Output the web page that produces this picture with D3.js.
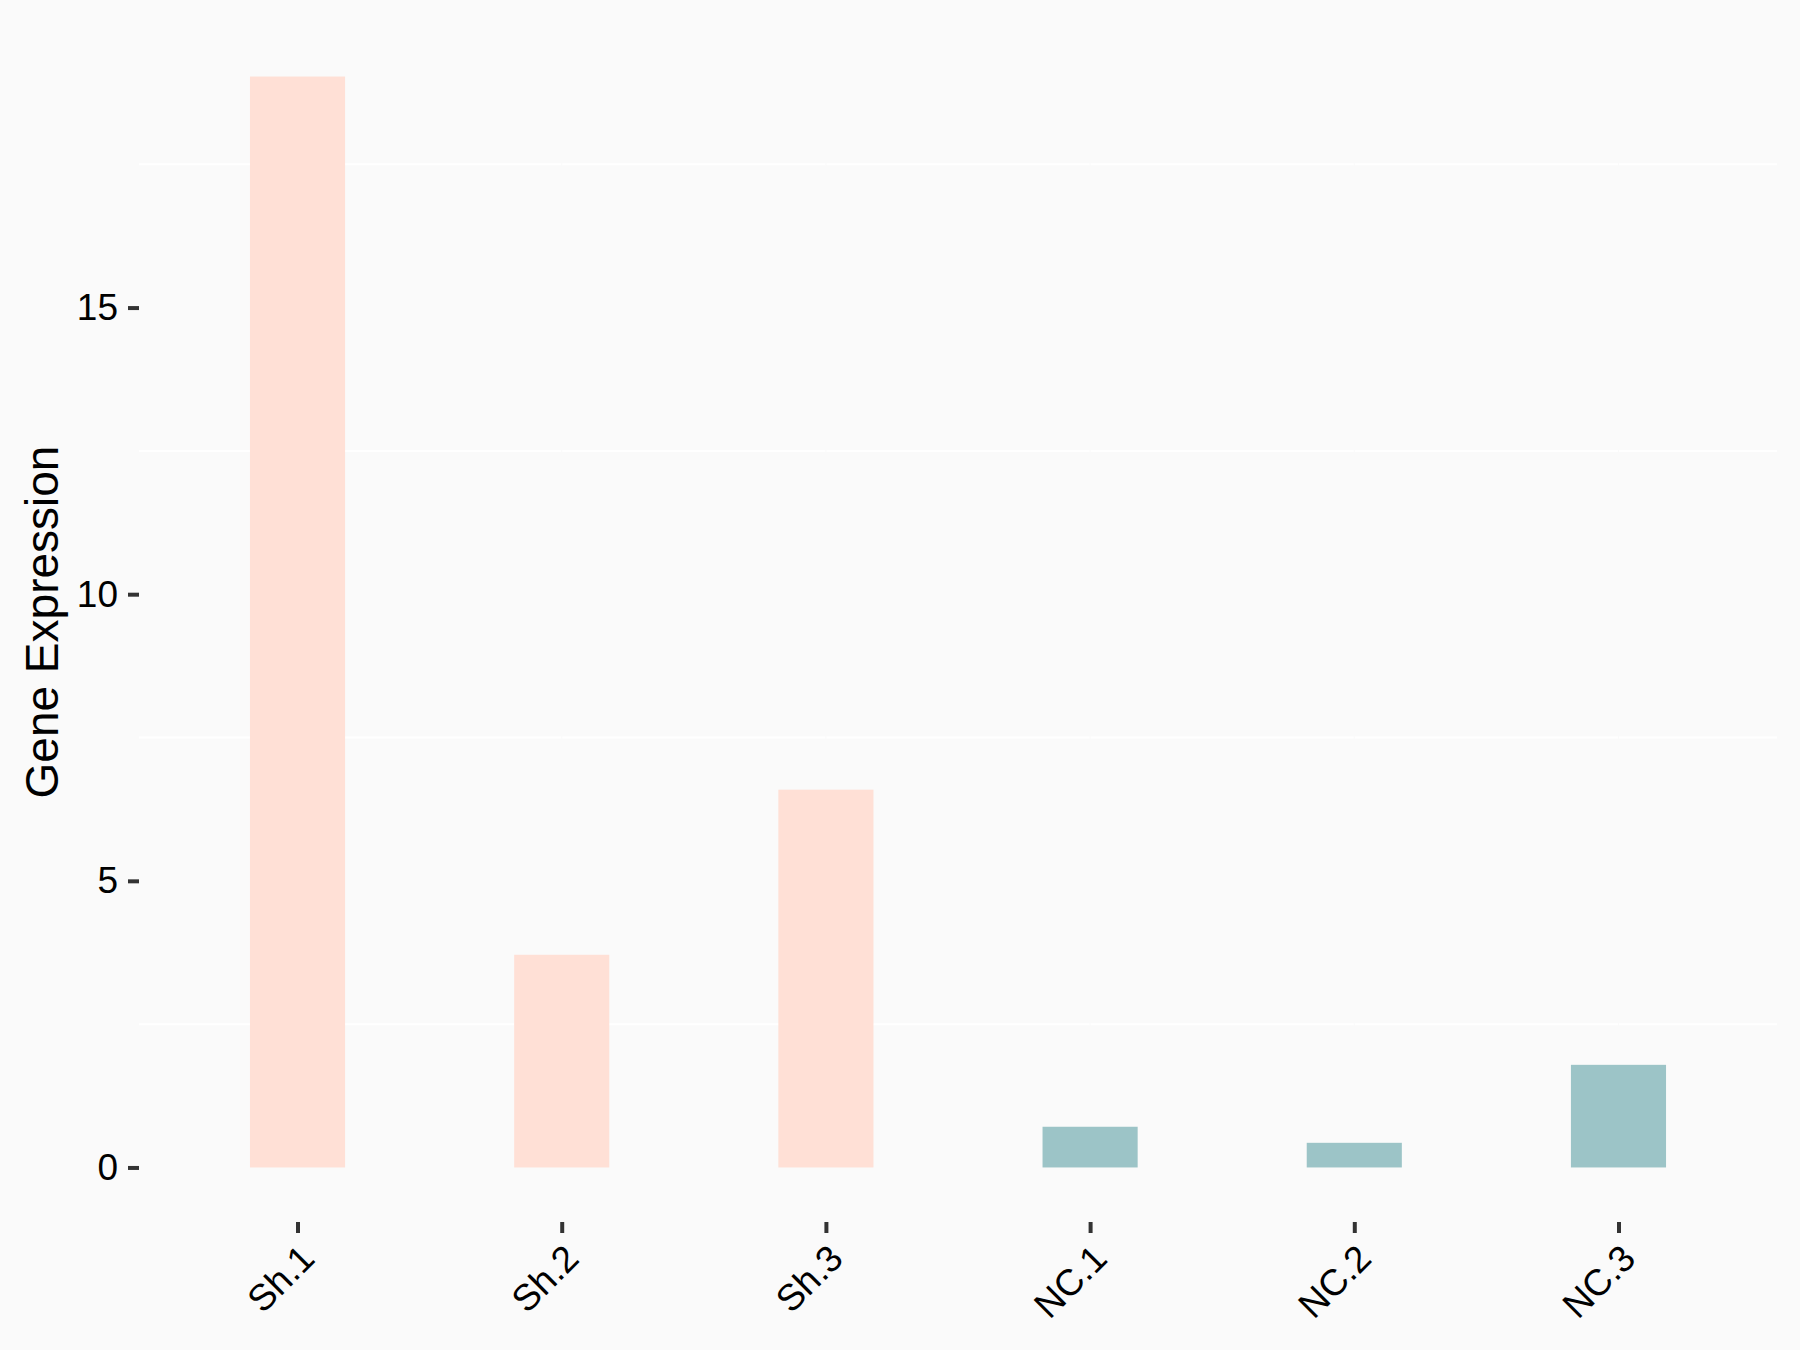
<!DOCTYPE html>
<html>
<head>
<meta charset="utf-8">
<script src="https://cdn.jsdelivr.net/npm/d3@7"></script>
<style>
	body { margin: 0; background: #FAFAFA; }
	text { font-family: "Liberation Sans", Arial, sans-serif; fill: #000; }
</style>
</head>
<body>
<div id="chart"></div>
<script>
// data
let samples = ['Sh.1', 'Sh.2', 'Sh.3', 'NC.1', 'NC.2', 'NC.3'];
let groups  = ['Sh', 'Sh', 'Sh', 'NC', 'NC', 'NC'];
let values  = [19.03, 3.71, 6.59, 0.71, 0.43, 1.79];
let y_ticks = [0, 5, 10, 15];
let y_minor = [2.5, 7.5, 12.5, 17.5];
let colors  = { Sh: '#FFE0D6', NC: '#9CC4C7' };

let full_width = 1800, full_height = 1350,
	margin = { top: 22, right: 23, bottom: 128, left: 139 },
	width  = full_width - margin.left - margin.right,
	height = full_height - margin.top - margin.bottom;

let data = samples.map(function(s, i){ return { name: s, group: groups[i], y: values[i] }; });

let ymax = d3.max(values), pad = ymax * 0.05;

let x = d3.scalePoint()
	.domain(samples)
	.range([0, width])
	.padding(0.6);

let y = d3.scaleLinear()
	.domain([-pad, ymax + pad])
	.range([height, 0]);

let bar_w = x.step() * 0.36;

let svg = d3.select('#chart')
	.append('svg')
	.attr('width', full_width)
	.attr('height', full_height);

svg.append('rect')
	.attr('width', full_width)
	.attr('height', full_height)
	.attr('fill', '#FAFAFA');

let g = svg.append('g')
	.attr('transform', 'translate(' + margin.left + ',' + margin.top + ')');

// minor grid (white), then major grid in background colour on top
g.selectAll('.minor')
	.data(y_minor)
	.enter().append('line')
	.attr('x1', 0).attr('x2', width)
	.attr('y1', d => y(d)).attr('y2', d => y(d))
	.attr('stroke', '#FFFFFF')
	.attr('stroke-width', 2);

g.selectAll('.major-x')
	.data(samples)
	.enter().append('line')
	.attr('x1', d => x(d)).attr('x2', d => x(d))
	.attr('y1', 0).attr('y2', height)
	.attr('stroke', '#FAFAFA')
	.attr('stroke-width', 1);

g.selectAll('.bar')
	.data(data)
	.enter().append('rect')
	.attr('x', d => x(d.name) - bar_w / 2)
	.attr('width', bar_w)
	.attr('y', d => y(d.y))
	.attr('height', d => y(0) - y(d.y))
	.attr('fill', d => colors[d.group]);

let yAxis = d3.axisLeft(y)
	.tickValues(y_ticks)
	.tickSize(11)
	.tickPadding(10)
	.tickFormat(d3.format('d'));

let ya = g.append('g').call(yAxis);
ya.select('.domain').remove();
ya.selectAll('line').attr('stroke', '#333333').attr('stroke-width', 4);
ya.selectAll('text').attr('font-size', 37).attr('fill', '#000');

let xAxis = d3.axisBottom(x)
	.tickSize(11)
	.tickSizeOuter(0);

let xa = g.append('g')
	.attr('transform', 'translate(0,' + height + ')')
	.call(xAxis);
xa.select('.domain').remove();
xa.selectAll('line').attr('stroke', '#333333').attr('stroke-width', 4);
xa.selectAll('text')
	.attr('font-size', 37)
	.attr('fill', '#000')
	.attr('text-anchor', 'end')
	.attr('x', 0).attr('y', 0)
	.attr('dy', '0.71em')
	.attr('transform', 'translate(0,20) rotate(-45)');

svg.append('text')
	.attr('transform', 'translate(58,' + (margin.top + height / 2) + ') rotate(-90)')
	.attr('text-anchor', 'middle')
	.attr('font-size', 46)
	.text('Gene Expression');
</script>
</body>
</html>
